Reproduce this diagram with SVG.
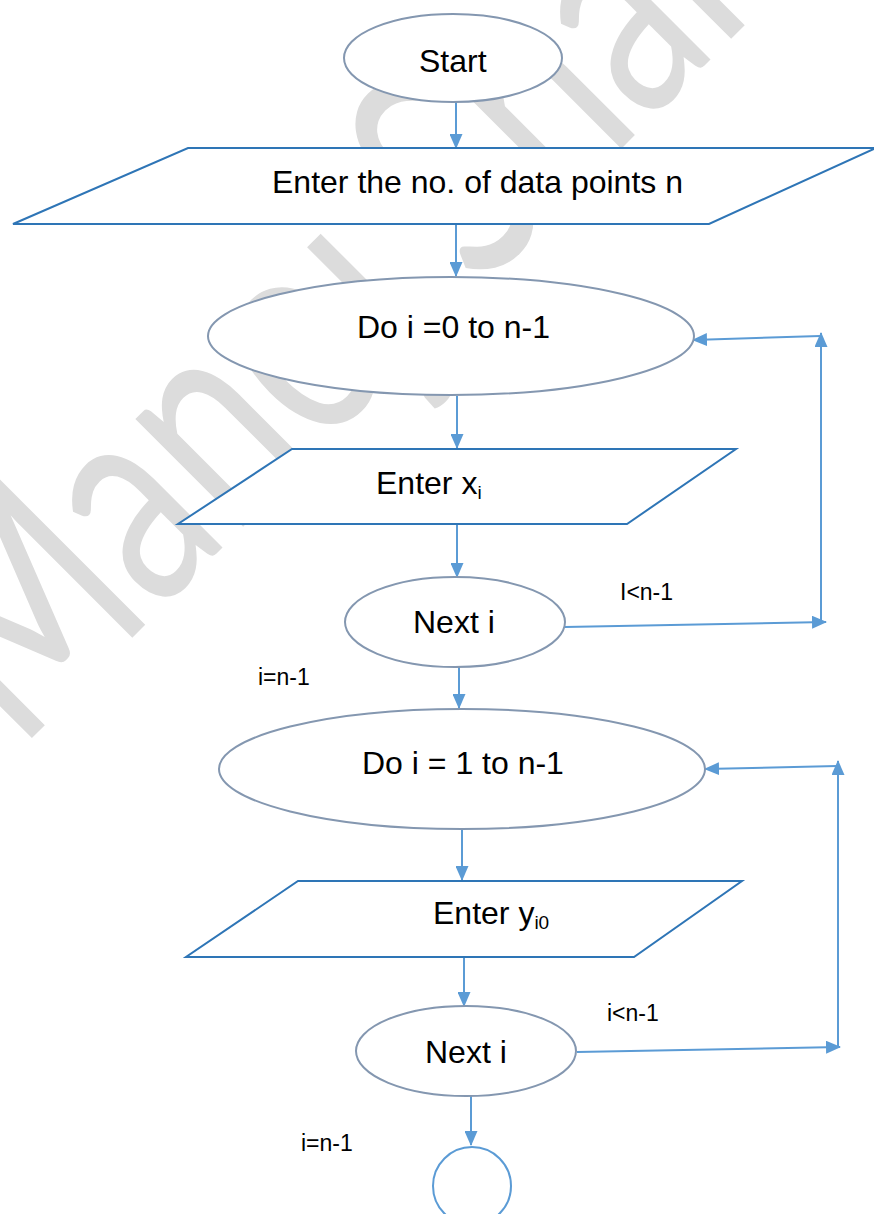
<svg xmlns="http://www.w3.org/2000/svg" width="874" height="1214" viewBox="0 0 874 1214">
<style>
.wm{font-family:Lato,"Liberation Sans",sans-serif;fill:#dcdcdc}
.term{fill:#fff;stroke:#8497b0;stroke-width:2}
.io{fill:#fff;stroke:#2e75b6;stroke-width:2}
.end{fill:#fff;stroke:#5b9bd5;stroke-width:2}
.lbl{font-family:"Liberation Sans",Arial,sans-serif;font-size:32px;fill:#000}
.sm{font-family:"Liberation Sans",Arial,sans-serif;font-size:23px;fill:#000}
.sub{font-size:19px}
.conn{fill:none;stroke:#5b9bd5;stroke-width:2}
</style>
<defs>
<marker id="ah" markerWidth="15" markerHeight="13" refX="14" refY="6.5" orient="auto" markerUnits="userSpaceOnUse">
<path d="M0,0 L15,6.5 L0,13 Z" fill="#5b9bd5"/>
</marker>
</defs>
<rect width="874" height="1214" fill="#fff"/>
<g id="watermark">
<text class="wm" transform="translate(18,752) rotate(-45) scale(1,1.4)" font-size="215">Manoj Sharma</text>
</g>
<g id="connectors">
<line class="conn" x1="456" y1="101" x2="456" y2="148" marker-end="url(#ah)"/>
<line class="conn" x1="456" y1="225" x2="456" y2="276" marker-end="url(#ah)"/>
<line class="conn" x1="457" y1="396" x2="457" y2="448" marker-end="url(#ah)"/>
<line class="conn" x1="457" y1="525" x2="457" y2="577" marker-end="url(#ah)"/>
<line class="conn" x1="565" y1="627" x2="826" y2="622" marker-end="url(#ah)"/>
<line class="conn" x1="821" y1="623" x2="821" y2="333" marker-end="url(#ah)"/>
<line class="conn" x1="820" y1="336" x2="693" y2="340" marker-end="url(#ah)"/>
<line class="conn" x1="459" y1="667" x2="459" y2="708" marker-end="url(#ah)"/>
<line class="conn" x1="462" y1="829" x2="462" y2="880" marker-end="url(#ah)"/>
<line class="conn" x1="464" y1="957" x2="464" y2="1006" marker-end="url(#ah)"/>
<line class="conn" x1="577" y1="1052" x2="840" y2="1047" marker-end="url(#ah)"/>
<line class="conn" x1="838" y1="1048" x2="838" y2="761" marker-end="url(#ah)"/>
<line class="conn" x1="837" y1="766" x2="705" y2="769" marker-end="url(#ah)"/>
<line class="conn" x1="471" y1="1096" x2="471" y2="1145" marker-end="url(#ah)"/>
</g>
<g id="start">
<ellipse class="term" cx="453" cy="58" rx="109" ry="44"/>
<text class="lbl" x="419" y="72">Start</text>
</g>
<g id="input-n">
<polygon class="io" points="188,148 876,148 709,224 13,224"/>
<text class="lbl" x="272" y="193">Enter the no. of data points n</text>
</g>
<g id="loop1">
<ellipse class="term" cx="451" cy="336" rx="243" ry="59"/>
<text class="lbl" x="357" y="338">Do i =0 to n-1</text>
</g>
<g id="input-x">
<polygon class="io" points="292,449 736,449 627,524 178,524"/>
<text class="lbl" x="376" y="494">Enter x<tspan class="sub" dy="5">i</tspan></text>
</g>
<g id="next1">
<ellipse class="term" cx="455" cy="622" rx="110" ry="45"/>
<text class="lbl" x="413" y="633">Next i</text>
</g>
<g id="label-lt1"><text class="sm" x="620" y="600">I&lt;n-1</text></g>
<g id="label-eq1"><text class="sm" x="258" y="685">i=n-1</text></g>
<g id="loop2">
<ellipse class="term" cx="462" cy="769" rx="243" ry="60"/>
<text class="lbl" x="362" y="774">Do i = 1 to n-1</text>
</g>
<g id="input-y">
<polygon class="io" points="298,881 742,881 634,957 186,957"/>
<text class="lbl" x="433" y="924">Enter y<tspan class="sub" dy="5">i0</tspan></text>
</g>
<g id="next2">
<ellipse class="term" cx="466" cy="1051" rx="110" ry="45"/>
<text class="lbl" x="425" y="1063">Next i</text>
</g>
<g id="label-lt2"><text class="sm" x="607" y="1021">i&lt;n-1</text></g>
<g id="label-eq2"><text class="sm" x="301" y="1151">i=n-1</text></g>
<g id="end">
<circle class="end" cx="472" cy="1186" r="39"/>
</g>
</svg>
